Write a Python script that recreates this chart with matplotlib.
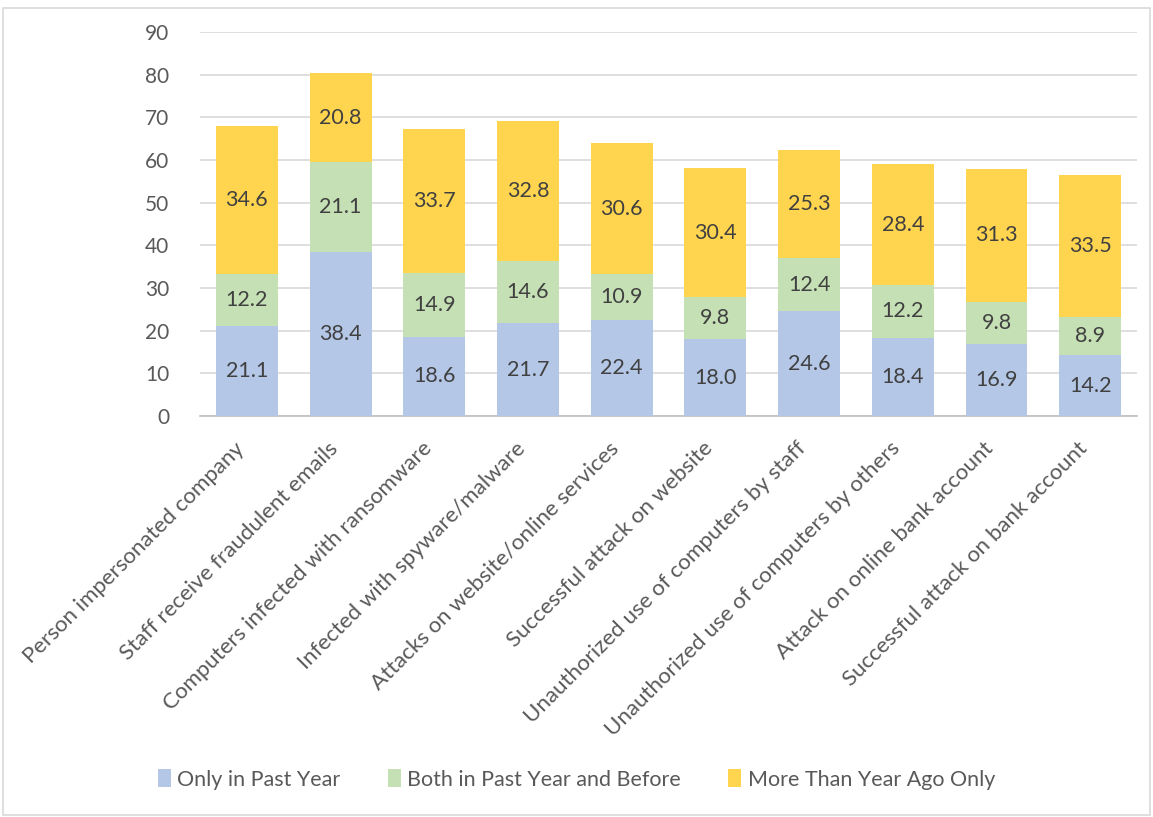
import matplotlib.pyplot as plt
import matplotlib.patches as patches
import matplotlib.transforms as mtransforms
import numpy as np

# --- Dados ---
categories = [
    'Person impersonated company',
    'Staff receive fraudulent emails',
    'Computers infected with ransomware',
    'Infected with spyware/malware',
    'Attacks on website/online services',
    'Successful attack on website',
    'Unauthorized use of computers by staff',
    'Unauthorized use of computers by others',
    'Attack on online bank account',
    'Successful attack on bank account',
]
only_past_year = [21.1, 38.4, 18.6, 21.7, 22.4, 18.0, 24.6, 18.4, 16.9, 14.2]
both_past_and_before = [12.2, 21.1, 14.9, 14.6, 10.9, 9.8, 12.4, 12.2, 9.8, 8.9]
more_than_year_ago = [34.6, 20.8, 33.7, 32.8, 30.6, 30.4, 25.3, 28.4, 31.3, 33.5]
series_names = ['Only in Past Year', 'Both in Past Year and Before', 'More Than Year Ago Only']

# --- Estilo ---
plt.rcParams['font.family'] = ['Lato', 'DejaVu Sans']
colors = ['#B4C7E7', '#C5E0B4', '#FFD44F']
text_color = '#404040'
tick_color = '#595959'
grid_color = '#D9D9D9'

fig = plt.figure(figsize=(11.53, 8.17), dpi=100)
ax = fig.add_axes([0.1735, 0.4908, 0.8127, 0.47])

# borda externa do gráfico
fig.patches.append(patches.Rectangle((3 / 1153, 2 / 817), 1147 / 1153, 807 / 817,
                                     transform=fig.transFigure, fill=False,
                                     edgecolor=grid_color, linewidth=1.2))

x = np.arange(len(categories))
bottom = np.zeros(len(categories))
for vals, color, name in zip([only_past_year, both_past_and_before, more_than_year_ago], colors, series_names):
    bars = ax.bar(x, vals, width=0.66, bottom=bottom, color=color, label=name, zorder=3)
    for rect, v in zip(bars, vals):
        ax.text(rect.get_x() + rect.get_width() / 2, rect.get_y() + rect.get_height() / 2,
                f'{v:.1f}', ha='center', va='center', fontsize=15.5, color=text_color, zorder=4)
    bottom += np.array(vals)

ax.set_ylim(0, 90)
ax.set_yticks(range(0, 91, 10))
ax.set_xlim(-0.5, len(categories) - 0.5)
ax.yaxis.grid(True, color=grid_color, linewidth=1.2, zorder=0)
for s in ['top', 'right', 'left']:
    ax.spines[s].set_visible(False)
ax.spines['bottom'].set_color('#BFBFBF')
ax.spines['bottom'].set_linewidth(1.2)
ax.tick_params(axis='y', length=0, labelsize=15, labelcolor=tick_color, pad=22)
ax.tick_params(axis='x', length=0, labelsize=16, labelcolor=tick_color, pad=16)
ax.set_xticks(x)
ax.set_xticklabels(categories, rotation=45, ha='right', rotation_mode='anchor')

# desloca os rótulos um pouco para a esquerda
shift = mtransforms.ScaledTranslation(-0.13, 0, fig.dpi_scale_trans)
for lbl in ax.get_xticklabels():
    lbl.set_transform(lbl.get_transform() + shift)

fig.legend(loc='center', bbox_to_anchor=(0.5, 0.046), ncol=3, frameon=False,
           fontsize=15.5, labelcolor=tick_color, handlelength=0.6, handleheight=0.9,
           handletextpad=0.3, columnspacing=2.2)

plt.savefig('out.png', dpi=100)
